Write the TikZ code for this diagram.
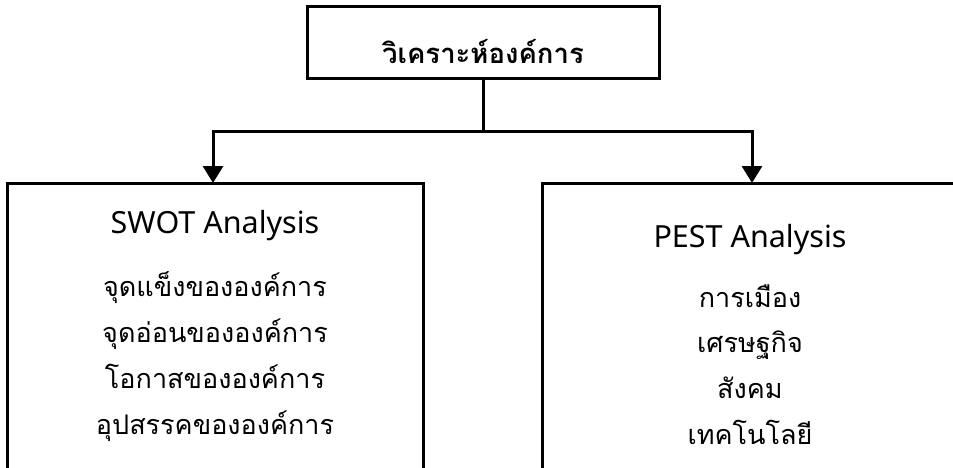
\documentclass[tikz,border=0pt]{standalone}
\usepackage{fontspec}
\setmainfont[Script=Thai]{Loma}
\newfontfamily\latinfont{Noto Sans}
\usetikzlibrary{arrows.meta}
\begin{document}
\begin{tikzpicture}[x=1pt,y=-1pt,
  line width=3pt,
  boxline/.style={draw=black,line width=3pt},
  txt/.style={inner sep=0pt,anchor=base,font=\fontsize{27}{32}\selectfont},
  ttl/.style={inner sep=0pt,anchor=base,font=\latinfont\fontsize{30.5}{34}\selectfont},
  arr/.style={-{Triangle[width=20pt,length=17pt]},line width=3pt}
]
\useasboundingbox (0,0) rectangle (953,468);
\begin{scope}
\clip (0,0) rectangle (953,468);
% boxes
\draw[boxline] (307,7) rectangle (659,79);
\draw[boxline] (7,183) rectangle (423,469.5);
\draw[boxline] (542,183) rectangle (970,469.5);
% connectors
\coordinate (tb) at (483,79);
\coordinate (j) at (483,132);
\coordinate (jl) at (213,132);
\coordinate (jr) at (752,132);
\coordinate (lt) at (213,183);
\coordinate (rt) at (752,183);
\draw (tb) -- (j);
\draw[line cap=rect] (jl) -- (jr);
\draw[arr] (jl) -- (lt);
\draw[arr] (jr) -- (rt);
% texts
\node[txt,font=\bfseries\fontsize{27.5}{32}\selectfont] (title) at (483,64) {วิเคราะห์องค์การ};
\node[ttl] (swot) at (215,233) {SWOT Analysis};
\node[txt] (s1) at (215,296) {จุดแข็งขององค์การ};
\node[txt] (s2) at (215,342) {จุดอ่อนขององค์การ};
\node[txt] (s3) at (215,388) {โอกาสขององค์การ};
\node[txt] (s4) at (215,434) {อุปสรรคขององค์การ};
\node[ttl] (pest) at (750,247) {PEST Analysis};
\node[txt] (p1) at (750,307) {การเมือง};
\node[txt] (p2) at (750,352) {เศรษฐกิจ};
\node[txt] (p3) at (750,398) {สังคม};
\node[txt] (p4) at (750,444) {เทคโนโลยี};
\end{scope}
\end{tikzpicture}
\end{document}
